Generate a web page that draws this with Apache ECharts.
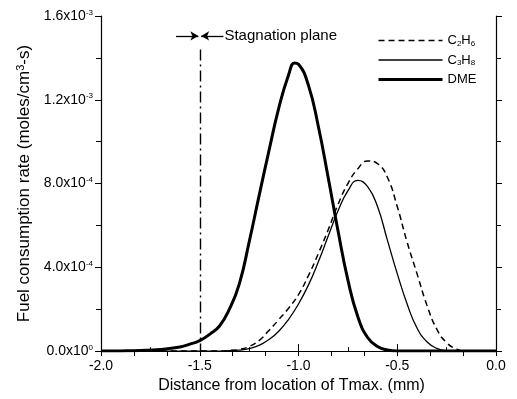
<!DOCTYPE html>
<html>
<head>
<meta charset="utf-8">
<script src="https://cdn.jsdelivr.net/npm/echarts@6/dist/echarts.min.js"></script>
<style>
  html, body { margin: 0; padding: 0; background: #fff; }
  #chart { width: 517px; height: 399px; }
</style>
</head>
<body>
<div id="chart"></div>
<script>
// values in units of 10^-3 moles/cm3-s, x in mm
const c2h6Data = [
  [-2.0, 0], [-1.4, 0], [-1.35, 0.003], [-1.3, 0.008], [-1.25, 0.022], [-1.2, 0.05],
  [-1.15, 0.098], [-1.1, 0.15], [-1.05, 0.205], [-1.0, 0.27], [-0.95, 0.36],
  [-0.9, 0.465], [-0.85, 0.578], [-0.8, 0.7], [-0.75, 0.8], [-0.7, 0.87],
  [-0.65, 0.908], [-0.6, 0.895], [-0.55, 0.83], [-0.5, 0.69], [-0.45, 0.52],
  [-0.4, 0.37], [-0.35, 0.22], [-0.3, 0.105], [-0.25, 0.04], [-0.2, 0.01],
  [-0.15, 0], [0, 0]
];
const c3h8Data = [
  [-2.0, 0], [-1.4, 0], [-1.35, 0.002], [-1.3, 0.005], [-1.25, 0.012], [-1.2, 0.027],
  [-1.15, 0.055], [-1.1, 0.095], [-1.05, 0.152], [-1.0, 0.225], [-0.95, 0.315],
  [-0.9, 0.425], [-0.85, 0.548], [-0.8, 0.67], [-0.75, 0.765], [-0.7, 0.815],
  [-0.65, 0.785], [-0.6, 0.69], [-0.55, 0.53], [-0.5, 0.37], [-0.45, 0.225],
  [-0.4, 0.11], [-0.35, 0.045], [-0.3, 0.013], [-0.25, 0.002], [-0.2, 0], [0, 0]
];
const dmeData = [
  [-2.0, 0], [-1.9, 0.001], [-1.8, 0.003], [-1.7, 0.008], [-1.6, 0.02], [-1.55, 0.033],
  [-1.5, 0.05], [-1.45, 0.08], [-1.4, 0.12], [-1.35, 0.2], [-1.3, 0.32],
  [-1.25, 0.52], [-1.2, 0.74], [-1.15, 0.955], [-1.1, 1.16], [-1.05, 1.32],
  [-1.02, 1.376], [-1.0, 1.37], [-0.95, 1.27], [-0.9, 1.075], [-0.85, 0.83],
  [-0.8, 0.575], [-0.75, 0.34], [-0.7, 0.165], [-0.65, 0.065], [-0.6, 0.022],
  [-0.55, 0.005], [-0.5, 0], [0, 0]
];
const xTickLabels = ['-2.0', '-1.5', '-1.0', '-0.5', '0.0'];
const yTickMantissa = ['0.0', '4.0', '8.0', '1.2', '1.6'];
const yTickExponent = ['0', '-4', '-4', '-3', '-3'];
const legendRich = {
  C2H6: '{n|C}{s|2}{n|H}{s|6}',
  C3H8: '{n|C}{s|3}{n|H}{s|8}',
  DME: '{n|DME}'
};
const stagnationX = -1.5;
const stagnationTop = 1.44;
const arrowY = 1.505;

const font = 'Liberation Sans, Arial, sans-serif';
const chart = echarts.init(document.getElementById('chart'));

const axisCommon = {
  axisLine: { show: true, lineStyle: { color: '#000', width: 1.2 } },
  splitLine: { show: false },
};

chart.setOption({
  animation: false,
  backgroundColor: '#fff',
  grid: { left: 101, right: 21, top: 16, bottom: 46 },
  legend: {
    orient: 'vertical',
    left: 372,
    top: 29,
    itemWidth: 64,
    itemHeight: 14,
    itemGap: 6,
    data: [
      { name: 'C2H6', lineStyle: { width: 1.5 } },
      { name: 'C3H8', lineStyle: { width: 1.3 } },
      { name: 'DME', lineStyle: { width: 3 } }
    ],
    itemStyle: { opacity: 0 },
    formatter: name => legendRich[name],
    textStyle: {
      color: '#000',
      fontFamily: font,
      rich: {
        n: { fontSize: 13, fontFamily: font, color: '#000' },
        s: { fontSize: 8, fontFamily: font, color: '#000', verticalAlign: 'bottom', padding: [6, 0, 0, 0] }
      }
    }
  },
  xAxis: [
    {
      ...axisCommon,
      type: 'value', min: -2, max: 0, interval: 0.5,
      axisTick: { inside: true, length: 7, lineStyle: { color: '#000' } },
      minorTick: { show: true, splitNumber: 2, length: 4, lineStyle: { color: '#000' } },
      axisLabel: {
        color: '#000', fontSize: 14, fontFamily: font, margin: 8,
        formatter: (v) => xTickLabels[Math.round((v + 2) / 0.5)]
      },
      name: 'Distance from location of Tmax. (mm)',
      nameLocation: 'middle',
      nameGap: 26,
      nameTextStyle: { color: '#000', fontSize: 16, fontFamily: font, padding: [0, 14, 0, 0] }
    },
    {
      ...axisCommon,
      type: 'value', min: 0, max: 12, interval: 1, position: 'top',
      axisTick: { inside: true, length: 5, lineStyle: { color: '#000' } },
      axisLabel: { show: false }
    }
  ],
  yAxis: [
    {
      ...axisCommon,
      type: 'value', min: 0, max: 1.6, interval: 0.4,
      axisTick: { inside: true, length: 6, lineStyle: { color: '#000' } },
      minorTick: { show: true, splitNumber: 2, length: 5, lineStyle: { color: '#000' } },
      axisLabel: {
        margin: 8,
        formatter: (v) => {
          const i = Math.round(v / 0.4);
          return '{m|' + yTickMantissa[i] + 'x10}{e|' + yTickExponent[i] + '}';
        },
        rich: {
          m: { fontSize: 14, fontFamily: font, color: '#000' },
          e: { fontSize: 8, fontFamily: font, color: '#000', verticalAlign: 'top', padding: [0, 0, 7, 0] }
        }
      },
      name: '{n|Fuel consumption rate (moles/cm}{e|3}{n|-s)}',
      nameLocation: 'middle',
      nameGap: 64,
      nameTextStyle: {
        rich: {
          n: { fontSize: 17, fontFamily: font, color: '#000' },
          e: { fontSize: 11, fontFamily: font, color: '#000', verticalAlign: 'top', padding: [0, 0, 7, 0] }
        }
      }
    },
    {
      ...axisCommon,
      type: 'value', min: 0, max: 1.6, interval: 0.4, position: 'right',
      axisTick: { inside: true, length: 6, lineStyle: { color: '#000' } },
      minorTick: { show: true, splitNumber: 2, length: 5, lineStyle: { color: '#000' } },
      axisLabel: { show: false }
    }
  ],
  series: [
    {
      name: 'C2H6', type: 'line', data: c2h6Data, smooth: 0.5, symbol: 'none',
      lineStyle: { color: '#000', width: 1.5, type: [6, 4] }, itemStyle: { color: '#000' }
    },
    {
      name: 'C3H8', type: 'line', data: c3h8Data, smooth: 0.5, symbol: 'none',
      lineStyle: { color: '#000', width: 1.3 }, itemStyle: { color: '#000' }
    },
    {
      name: 'DME', type: 'line', data: dmeData, smooth: 0.5, symbol: 'none',
      lineStyle: { color: '#000', width: 3 }, itemStyle: { color: '#000' }
    },
    {
      name: 'stagnation', type: 'line', data: [], symbol: 'none',
      markLine: {
        silent: true,
        symbol: ['none', 'none'],
        label: { show: false },
        lineStyle: { color: '#000', width: 1.4, type: [11, 4, 2, 4] },
        data: [
          [{ coord: [stagnationX, stagnationTop] }, { coord: [stagnationX, 0] }],
          [
            { coord: [-1.62, arrowY], lineStyle: { type: 'solid', width: 1.3 } },
            { coord: [-1.507, arrowY], symbol: 'arrow', symbolSize: [7, 8] }
          ],
          [
            { coord: [-1.38, arrowY], lineStyle: { type: 'solid', width: 1.3 },
              label: { show: true, position: 'start', formatter: 'Stagnation plane', color: '#000',
                       fontSize: 15, fontFamily: font, align: 'left', distance: 1 } },
            { coord: [-1.493, arrowY], symbol: 'arrow', symbolSize: [7, 8] }
          ]
        ]
      }
    }
  ]
});
</script>
</body>
</html>
